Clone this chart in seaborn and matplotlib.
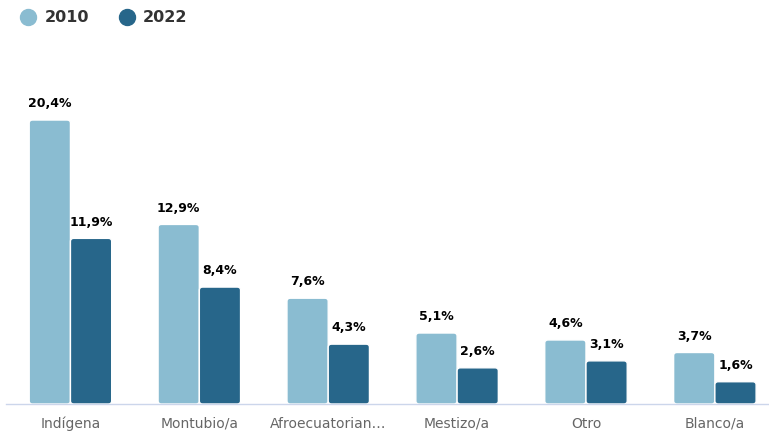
import numpy as np
import pandas as pd
import seaborn as sns
import matplotlib.pyplot as plt
from matplotlib.lines import Line2D
from matplotlib.patches import FancyBboxPatch

categories = ["Indígena", "Montubio/a", "Afroecuatorian…", "Mestizo/a", "Otro", "Blanco/a"]
years = ["2010", "2022"]
values_2010 = [20.4, 12.9, 7.6, 5.1, 4.6, 3.7]
values_2022 = [11.9, 8.4, 4.3, 2.6, 3.1, 1.6]
colors = ["#8abcd1", "#27668a"]

df = pd.DataFrame({
    "cat": categories * 2,
    "year": [years[0]] * len(categories) + [years[1]] * len(categories),
    "value": values_2010 + values_2022,
})

sns.set_style("white")
plt.rcParams['font.family'] = ['DejaVu Sans']

W, H = 769, 437
fig = plt.figure(figsize=(W / 100, H / 100), dpi=100)
ax = fig.add_axes([6 / W, 33 / H, 763 / W, 348 / H])

sns.barplot(data=df, x="cat", y="value", hue="year", palette=colors,
            width=0.64, ax=ax, legend=False, saturation=1,
            edgecolor="white", linewidth=1)

# rounded corners like the original
bars = list(ax.patches)
for p in bars:
    x, y = p.get_x(), p.get_y()
    w, h = p.get_width(), p.get_height()
    rb = FancyBboxPatch((x, y), w, h, boxstyle="round,pad=0,rounding_size=0.025",
                        mutation_aspect=9, facecolor=p.get_facecolor(),
                        edgecolor="white", linewidth=1)
    p.set_visible(False)
    ax.add_patch(rb)

for cont, vals in zip(ax.containers, [values_2010, values_2022]):
    labels = [f"{v:.1f}%".replace(".", ",") for v in vals]
    ax.bar_label(cont, labels=labels, padding=7, fontsize=9,
                 fontweight="bold", color="black")

ax.set_ylim(0, 25)
ax.set_xlim(-0.5, len(categories) - 0.58)
ax.set_xlabel("")
ax.set_ylabel("")
ax.set_yticks([])
for s in ["top", "right", "left"]:
    ax.spines[s].set_visible(False)
ax.spines["bottom"].set_color("#ccd6eb")
ax.spines["bottom"].set_linewidth(1)
ax.tick_params(axis="x", length=0, pad=9, labelsize=10, labelcolor="#666666")

# legend: circles + labels at top left
for c, lab, cx, tx in zip(colors, years, [28, 126.5], [45, 143]):
    fig.add_artist(Line2D([cx / W], [1 - 17 / H], marker="o", linestyle="",
                          markersize=11.5, markerfacecolor=c, markeredgecolor=c,
                          transform=fig.transFigure))
    fig.text(tx / W, 1 - 17 / H, lab, ha="left", va="center", fontsize=11.5,
             fontweight="bold", color="#333333")

fig.savefig("out.png", dpi=100)
